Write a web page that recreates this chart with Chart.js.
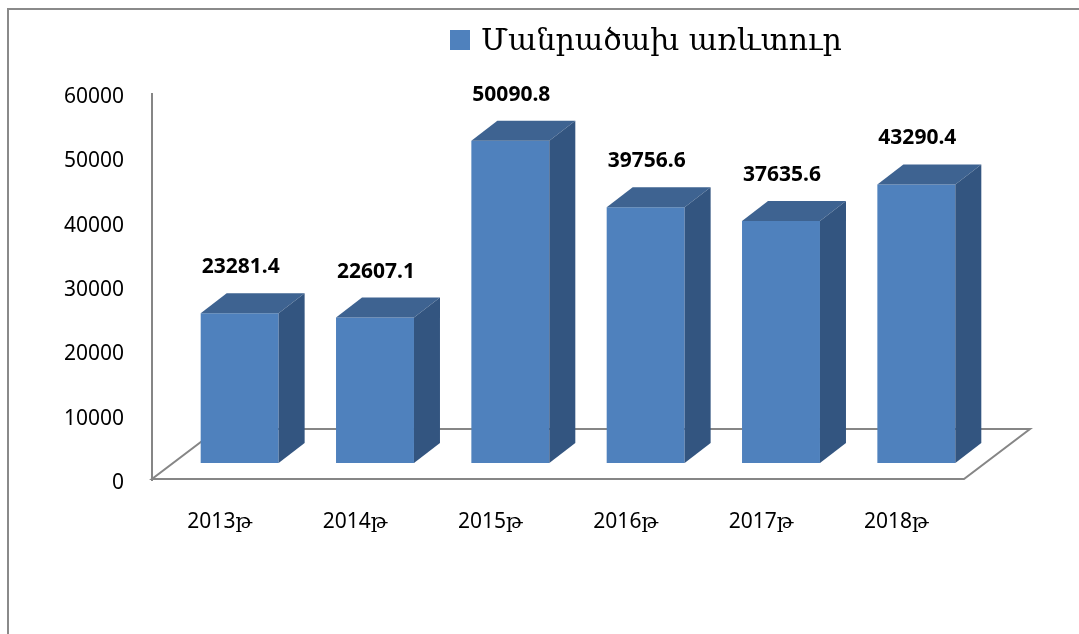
<!DOCTYPE html>
<html>
<head>
<meta charset="utf-8">
<script src="https://cdn.jsdelivr.net/npm/chart.js@4.4.0/dist/chart.umd.min.js"></script>
<style>
  html, body { margin: 0; padding: 0; background: #fff; overflow: hidden; }
</style>
</head>
<body>
<canvas id="chart" width="1079" height="634"></canvas>
<script>
// ===== Data =====
const years = ["2013թ", "2014թ", "2015թ", "2016թ", "2017թ", "2018թ"];
const retail = [23281.4, 22607.1, 50090.8, 39756.6, 37635.6, 43290.4];
const seriesName = "Մանրածախ առևտուր";
const yTicks = [0, 10000, 20000, 30000, 40000, 50000, 60000];

// colours
const FRONT = "#4f81bd";
const TOP = "#3e6391";
const SIDE = "#335580";
const LINE = "#868686";

// 3D look
const DEPTH_X = 26, DEPTH_Y = 20;   // bar depth
const SHIFT_X = 20, SHIFT_Y = 17;   // bars stand in the middle of the floor
const FLOOR_X = 66, FLOOR_Y = 50;   // floor depth

const bar3d = {
    id: "bar3d",
    beforeDraw(chart) {
        // outer frame (only top + left edges are visible)
        const ctx = chart.ctx;
        ctx.save();
        ctx.strokeStyle = "#8a8a8a";
        ctx.lineWidth = 2;
        ctx.strokeRect(8, 9, 3000, 3000);
        ctx.restore();
    },
    beforeDatasetsDraw(chart) {
        // floor
        const ctx = chart.ctx;
        const x = chart.scales.x;
        const y0 = chart.scales.y.getPixelForValue(0) - 1;
        ctx.save();
        ctx.strokeStyle = LINE;
        ctx.lineWidth = 2;
        ctx.beginPath();
        ctx.moveTo(x.left, y0);
        ctx.lineTo(x.right, y0);
        ctx.lineTo(x.right + FLOOR_X, y0 - FLOOR_Y);
        ctx.lineTo(x.left + FLOOR_X, y0 - FLOOR_Y);
        ctx.closePath();
        ctx.stroke();
        ctx.restore();
    },
    beforeDatasetDraw(chart) {
        chart.ctx.save();
        chart.ctx.translate(SHIFT_X, -SHIFT_Y);
    },
    afterDatasetDraw(chart, args) {
        const ctx = chart.ctx;
        args.meta.data.forEach(el => {
            const p = el.getProps(["x", "y", "base", "width"], true);
            const l = p.x - p.width / 2, r = p.x + p.width / 2;
            // top
            ctx.fillStyle = TOP;
            ctx.beginPath();
            ctx.moveTo(l, p.y);
            ctx.lineTo(r, p.y);
            ctx.lineTo(r + DEPTH_X, p.y - DEPTH_Y);
            ctx.lineTo(l + DEPTH_X, p.y - DEPTH_Y);
            ctx.closePath();
            ctx.fill();
            // side
            ctx.fillStyle = SIDE;
            ctx.beginPath();
            ctx.moveTo(r, p.y);
            ctx.lineTo(r + DEPTH_X, p.y - DEPTH_Y);
            ctx.lineTo(r + DEPTH_X, p.base - DEPTH_Y);
            ctx.lineTo(r, p.base);
            ctx.closePath();
            ctx.fill();
        });
        ctx.restore();
    },
    afterDraw(chart) {
        const ctx = chart.ctx;
        const ds = chart.data.datasets[0];
        // value labels
        ctx.save();
        ctx.font = "bold 21px 'Noto Sans'";
        ctx.fillStyle = "#000";
        ctx.textAlign = "center";
        ctx.textBaseline = "middle";
        chart.getDatasetMeta(0).data.forEach((el, i) => {
            ctx.fillText(String(ds.data[i]), el.x + SHIFT_X + 1, el.y - SHIFT_Y - 46);
        });
        // legend
        ctx.fillStyle = ds.backgroundColor;
        ctx.fillRect(450, 30, 20, 20);
        ctx.fillStyle = "#000";
        ctx.textAlign = "left";
        ctx.textBaseline = "alphabetic";
        ctx.font = "30px 'DejaVu Serif'";
        ctx.fillText(ds.label, 481, 50);
        ctx.restore();
    }
};

new Chart(document.getElementById("chart"), {
    type: "bar",
    data: {
        labels: years,
        datasets: [{
            label: seriesName,
            data: retail,
            backgroundColor: FRONT,
            borderWidth: 0,
            categoryPercentage: 1,
            barPercentage: 0.576,
            clip: false
        }]
    },
    options: {
        responsive: false,
        animation: false,
        devicePixelRatio: 1,
        layout: { padding: { top: 94, right: 115, left: 0, bottom: 0 } },
        plugins: {
            legend: { display: false },
            tooltip: { enabled: false }
        },
        scales: {
            x: {
                grid: { display: false, drawTicks: false },
                border: { display: false },
                ticks: {
                    color: "#000",
                    padding: 29,
                    font: { family: "'Noto Sans', 'DejaVu Serif'", size: 21 }
                },
                afterFit: s => { s.height = 154; }
            },
            y: {
                min: yTicks[0],
                max: yTicks[yTicks.length - 1],
                afterBuildTicks: s => { s.ticks = yTicks.map(v => ({ value: v })); },
                grid: { display: false, drawTicks: false },
                border: { display: true, color: LINE, width: 2 },
                ticks: {
                    color: "#000",
                    padding: 28,
                    labelOffset: 3,
                    font: { family: "'Noto Sans'", size: 21 },
                    callback: v => String(v)
                },
                afterFit: s => { s.width = 152; }
            }
        }
    },
    plugins: [bar3d]
});
</script>
</body>
</html>
